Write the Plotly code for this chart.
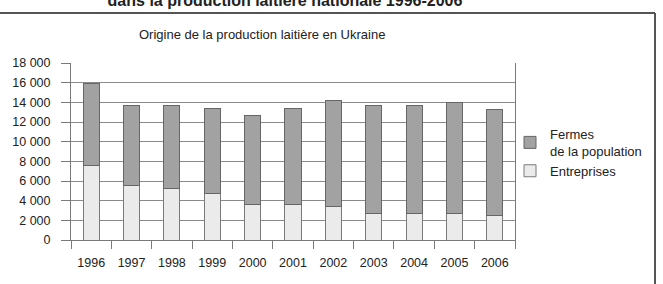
import plotly.graph_objects as go

years = ["1996", "1997", "1998", "1999", "2000", "2001", "2002", "2003", "2004", "2005", "2006"]
entreprises = [7600, 5500, 5250, 4750, 3650, 3650, 3450, 2700, 2650, 2650, 2500]
totals = [15950, 13700, 13700, 13400, 12700, 13400, 14200, 13700, 13700, 13950, 13300]
fermes = [t - e for t, e in zip(totals, entreprises)]
y_ticks = [0, 2000, 4000, 6000, 8000, 10000, 12000, 14000, 16000, 18000]
y_ticktext = ["0", "2 000", "4 000", "6 000", "8 000", "10 000", "12 000", "14 000", "16 000", "18 000"]

FONT = "Liberation Sans, Arial, sans-serif"

fig = go.Figure()
fig.add_trace(go.Bar(
    x=years, y=entreprises, name="Entreprises",
    marker=dict(color="#ebebeb", line=dict(color="#7a7a7a", width=1)),
))
fig.add_trace(go.Bar(
    x=years, y=fermes, name="Fermes<br>de la population",
    marker=dict(color="#a2a2a2", line=dict(color="#666666", width=1)),
))

L, R, T, B = 71, 148, 63, 44
W, H = 663, 284
pw, ph = W - L - R, H - T - B

def px_x(px):
    return (px - L) / pw

def px_y(py):
    return (H - B - py) / ph

fig.update_layout(
    width=W, height=H,
    margin=dict(l=L, r=R, t=T, b=B, pad=0),
    paper_bgcolor="white", plot_bgcolor="white",
    barmode="stack", bargap=0.6,
    font=dict(family=FONT, size=13, color="#222222"),
    showlegend=True,
    legend=dict(
        x=px_x(510), y=px_y(119), xanchor="left", yanchor="top",
        traceorder="reversed", font=dict(size=13, color="#222222"),
        bgcolor="rgba(0,0,0,0)", tracegroupgap=2, itemwidth=30,
    ),
    title=dict(
        text="<b>dans la production laitière nationale 1996-2006</b>",
        x=285 / W, xanchor="center", y=1.0, yanchor="middle", yref="container",
        font=dict(size=16, color="#222222", family=FONT),
    ),
    xaxis=dict(
        type="category", tickson="boundaries", ticks="outside", ticklen=8,
        tickcolor="#7a7a7a", showline=True, linecolor="#7a7a7a", linewidth=1,
        showgrid=False, tickfont=dict(size=12.5), ticklabelstandoff=11,
        mirror=False,
    ),
    yaxis=dict(
        range=[0, 18000], tickvals=y_ticks, ticktext=y_ticktext,
        ticks="outside", ticklen=9, tickcolor="#7a7a7a",
        showline=True, linecolor="#7a7a7a", linewidth=1, mirror=True,
        showgrid=True, gridcolor="#8a8a8a", gridwidth=1,
        tickfont=dict(size=12.5), ticklabelstandoff=8, zeroline=False,
    ),
)

fig.add_annotation(
    text="Origine de la production laitière en Ukraine",
    xref="paper", yref="paper", x=px_x(262), y=px_y(35),
    xanchor="center", yanchor="middle", showarrow=False,
    font=dict(size=13, color="#222222"),
)

# outer frame (top and right edges visible)
fig.add_shape(type="line", xref="paper", yref="paper",
              x0=px_x(-5), x1=px_x(655), y0=px_y(13), y1=px_y(13),
              line=dict(color="#555555", width=2))
fig.add_shape(type="line", xref="paper", yref="paper",
              x0=px_x(655), x1=px_x(655), y0=px_y(13), y1=px_y(290),
              line=dict(color="#555555", width=2))

fig.write_html("out.html")
